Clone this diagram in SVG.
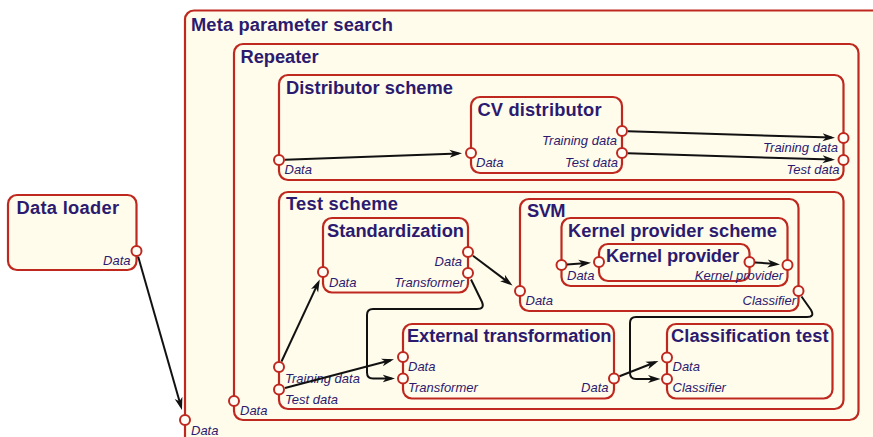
<svg xmlns="http://www.w3.org/2000/svg" width="873" height="437" viewBox="0 0 873 437">
  <defs>
    <style>
      .frame { fill: #FFFCEC; stroke: #BF281E; stroke-width: 2.2; }
      .port { fill: #FFFEF6; stroke: #BF281E; stroke-width: 2; }
      .title { font-family: "Liberation Sans", Arial, sans-serif; font-weight: bold; font-size: 18.3px; fill: #2C1A6E; }
      .lbl { font-family: "Liberation Sans", Arial, sans-serif; font-style: italic; font-size: 13px; fill: #2C1A6E; }
      .end { text-anchor: end; }
      .wire { fill: none; stroke: #111; stroke-width: 2; marker-end: url(#arrow); }
    </style>
    <marker id="arrow" markerUnits="userSpaceOnUse" markerWidth="13" markerHeight="9" viewBox="0 0 13 9" refX="9" refY="4.5" orient="auto">
      <path d="M0,0.5 L12.5,4.5 L0,8.5 L3.5,4.5 z" fill="#111"/>
    </marker>
  </defs>

  <rect width="873" height="437" fill="#FFFFFF"/>

  <!-- Data loader -->
  <g id="data-loader">
    <rect class="frame" x="8" y="195" width="128.5" height="75" rx="9"/>
    <text class="title" x="16.5" y="214" textLength="102.5">Data loader</text>
    <circle class="port" cx="136.5" cy="251" r="5"/>
    <text class="lbl end" x="130.5" y="264.5">Data</text>
  </g>

  <!-- Meta parameter search (outermost) -->
  <g id="meta-parameter-search">
    <rect class="frame" x="185" y="10.5" width="720" height="470" rx="9"/>
    <text class="title" x="191" y="30.5" textLength="202">Meta parameter search</text>

    <g id="repeater">
      <rect class="frame" x="234" y="44" width="624.5" height="376" rx="9"/>
      <text class="title" x="240.5" y="63" textLength="78">Repeater</text>

      <g id="distributor-scheme">
        <rect class="frame" x="279" y="75" width="564.5" height="105" rx="9"/>
        <text class="title" x="286" y="94" textLength="167">Distributor scheme</text>

        <g id="cv-distributor">
          <rect class="frame" x="471" y="97" width="151" height="76" rx="9"/>
          <text class="title" x="477.5" y="116" textLength="124">CV distributor</text>
          <circle class="port" cx="471" cy="153" r="5"/>
          <text class="lbl" x="476" y="167">Data</text>
          <circle class="port" cx="622" cy="131" r="5"/>
          <text class="lbl end" x="617" y="145">Training data</text>
          <circle class="port" cx="622" cy="153" r="5"/>
          <text class="lbl end" x="618" y="167">Test data</text>
        </g>

        <circle class="port" cx="279" cy="160" r="5"/>
        <text class="lbl" x="284.5" y="174">Data</text>
        <circle class="port" cx="843.5" cy="138" r="5"/>
        <text class="lbl end" x="838" y="152">Training data</text>
        <circle class="port" cx="843.5" cy="160" r="5"/>
        <text class="lbl end" x="839.5" y="173.5">Test data</text>
      </g>

      <g id="test-scheme">
        <rect class="frame" x="279" y="192" width="564.5" height="217" rx="9"/>
        <text class="title" x="286" y="210" textLength="112">Test scheme</text>

        <g id="standardization">
          <rect class="frame" x="323" y="218" width="145" height="74.5" rx="9"/>
          <text class="title" x="327" y="236.5" textLength="137">Standardization</text>
          <circle class="port" cx="323" cy="272" r="5"/>
          <text class="lbl" x="329" y="287">Data</text>
          <circle class="port" cx="468" cy="252" r="5"/>
          <text class="lbl end" x="462" y="265.5">Data</text>
          <circle class="port" cx="468" cy="273" r="5"/>
          <text class="lbl end" x="464" y="287">Transformer</text>
        </g>

        <g id="svm">
          <rect class="frame" x="520" y="199" width="278.5" height="112" rx="9"/>
          <text class="title" x="527" y="216.5" textLength="38.5">SVM</text>

          <g id="kernel-provider-scheme">
            <rect class="frame" x="561.5" y="218" width="226" height="68" rx="9"/>
            <text class="title" x="568" y="237" textLength="209">Kernel provider scheme</text>

            <g id="kernel-provider">
              <rect class="frame" x="599" y="244" width="150.5" height="37" rx="9"/>
              <text class="title" x="606" y="261.5" textLength="133">Kernel provider</text>
              <circle class="port" cx="599" cy="262" r="5"/>
              <circle class="port" cx="749.5" cy="262" r="5"/>
            </g>

            <circle class="port" cx="561.5" cy="265" r="5"/>
            <text class="lbl" x="567" y="279.5">Data</text>
            <circle class="port" cx="787.5" cy="265" r="5"/>
            <text class="lbl end" x="783" y="279.5">Kernel provider</text>
          </g>

          <circle class="port" cx="520" cy="291" r="5"/>
          <text class="lbl" x="525.5" y="305">Data</text>
          <circle class="port" cx="798.5" cy="291" r="5"/>
          <text class="lbl end" x="796" y="305">Classifier</text>
        </g>

        <g id="external-transformation">
          <rect class="frame" x="403" y="324" width="211" height="74.5" rx="9"/>
          <text class="title" x="407" y="341.5" textLength="204.5">External transformation</text>
          <circle class="port" cx="403" cy="357" r="5"/>
          <text class="lbl" x="408" y="371">Data</text>
          <circle class="port" cx="403" cy="378.5" r="5"/>
          <text class="lbl" x="408" y="392">Transformer</text>
          <circle class="port" cx="614" cy="378.5" r="5"/>
          <text class="lbl end" x="608.5" y="392">Data</text>
        </g>

        <g id="classification-test">
          <rect class="frame" x="667" y="324" width="165.5" height="74.5" rx="9"/>
          <text class="title" x="671" y="341.5" textLength="157.5">Classification test</text>
          <circle class="port" cx="667" cy="357.5" r="5"/>
          <text class="lbl" x="672.5" y="371">Data</text>
          <circle class="port" cx="667" cy="379" r="5"/>
          <text class="lbl" x="672.5" y="392">Classifier</text>
        </g>

        <circle class="port" cx="279" cy="367" r="5"/>
        <text class="lbl" x="285" y="382.5">Training data</text>
        <circle class="port" cx="279" cy="389.5" r="5"/>
        <text class="lbl" x="285" y="404">Test data</text>
      </g>

      <circle class="port" cx="234" cy="401" r="5"/>
      <text class="lbl" x="240" y="415">Data</text>
    </g>

    <circle class="port" cx="185" cy="420" r="5"/>
    <text class="lbl" x="191" y="435">Data</text>
  </g>

  <!-- Connectors -->
  <g id="connectors">
    <path class="wire" d="M138.2,256.8 L181,406.6"/>
    <path class="wire" d="M285,159.8 L458.5,153.4"/>
    <path class="wire" d="M628,131.2 L831.5,137.6"/>
    <path class="wire" d="M628,153.2 L831.5,159.6"/>
    <path class="wire" d="M281.5,361.5 L318.3,282.7"/>
    <path class="wire" d="M285,388 L390.6,360.2"/>
    <path class="wire" d="M473,255.8 L509.7,283.4"/>
    <path class="wire" d="M471,279.5 L482,302 Q485,309 477,309 L373,309 Q367,309 367,315 L367,372.5 Q367,378.5 373,378.5 L391.5,378.5"/>
    <path class="wire" d="M567,264.6 L587.5,263"/>
    <path class="wire" d="M755,262.4 L776.5,264.1"/>
    <path class="wire" d="M801.5,296.5 L811,310 Q815,317 807,317 L636,317 Q630,317 630,323 L630,373 Q630,379 636,379 L657,379"/>
    <path class="wire" d="M619.5,376.3 L655.2,362.2"/>
  </g>
</svg>
